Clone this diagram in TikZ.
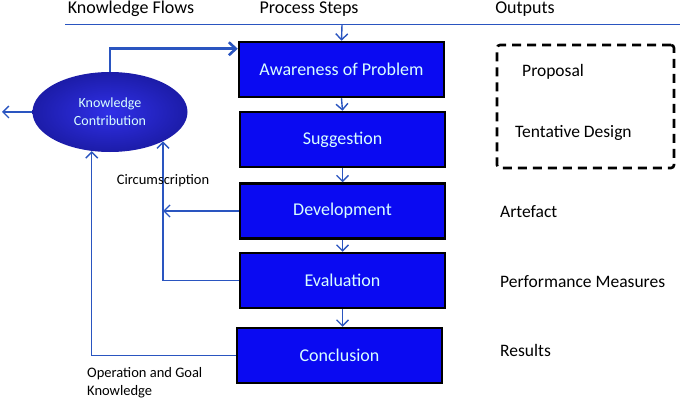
\documentclass[tikz,border=0pt]{standalone}
\usepackage{fontspec}
\setmainfont{Carlito}
\usetikzlibrary{arrows.meta,shapes.geometric,calc}
\definecolor{boxblue}{HTML}{0A0AF2}
\definecolor{linkblue}{HTML}{2A55C0}
\definecolor{txtcyan}{HTML}{D8FFFF}
\begin{document}
\begin{tikzpicture}[x=1pt,y=-1pt,
  stepbox/.style={draw=black,line width=2.5pt,fill=boxblue,text=txtcyan,
    font=\fontsize{18}{20}\selectfont,minimum width=205pt,minimum height=55pt,inner sep=0pt},
  flow/.style={draw=linkblue,line width=1.4pt,-{Straight Barb[length=6pt,width=12pt]}},
  thickflow/.style={draw=linkblue,line width=2.6pt,-{Straight Barb[length=7pt,width=13pt]}},
  plain/.style={draw=linkblue,line width=1.3pt},
  header/.style={font=\fontsize{18}{20}\selectfont,text=black,inner sep=0pt},
  outtext/.style={font=\fontsize{17.5}{20}\selectfont,text=black,inner sep=0pt,anchor=west},
  note/.style={font=\fontsize{14.5}{18}\selectfont,text=black,inner sep=0pt}
]
\useasboundingbox (0,0) rectangle (685,401);

% headers
\node[header] (hkf) at (131,9) {Knowledge Flows};
\node[header] (hps) at (309,9) {Process Steps};
\node[header] (hout) at (525,9) {Outputs};
\coordinate (hl) at (65,25);
\coordinate (hr) at (680,25);
\draw[plain,line width=1pt] (hl) -- (hr);

% process steps
\node[stepbox] (aw)  at (341.5,69.5) {Awareness of Problem};
\node[stepbox] (sug) at (342.5,139.5) {Suggestion};
\node[stepbox] (dev) at (342.5,211) {Development};
\node[stepbox] (eva) at (342.5,280.5) {Evaluation};
\node[stepbox] (con) at (339.5,355.5) {Conclusion};

\coordinate (topin) at (342,25);
\draw[flow] (topin) -- (aw.north);
\draw[flow] (aw.south) -- (sug.north);
\draw[flow] (sug.south) -- (dev.north);
\draw[flow] (dev.south) -- (eva.north);
\draw[flow] (eva.south) -- (eva.south |- con.north);

% knowledge contribution
\node[ellipse,minimum width=155pt,minimum height=80pt,inner sep=0pt,
  shading=radial,inner color={rgb,255:red,48;green,48;blue,232},
  outer color={rgb,255:red,28;green,28;blue,168},
  text=txtcyan,align=center,font=\fontsize{14}{18}\selectfont] (kc) at (110,112)
  {Knowledge\\Contribution};

\coordinate (kout) at (2,112);
\draw[flow] (kc.west) -- (kout);
\coordinate (awin) at ($(aw.north west)+(0,8)$);
\draw[thickflow] (kc.north) |- (awin);

\draw[flow] (eva.west) -| (kc.331);
\draw[flow] (dev.west) -- (dev.west -| kc.331);
\draw[flow] (con.west) -| (kc.245);

\node[note] (circ) at (163,181) {Circumscription};
\node[note,align=left,anchor=north west] (opg) at (87,367) {Operation and Goal\\Knowledge};

% outputs
\node[draw=black,dashed,line width=2.6pt,dash pattern=on 9pt off 6pt,rounded corners=3pt,
  minimum width=177pt,minimum height=123pt,inner sep=0pt] (outbox) at (585.5,106.5) {};
\node[outtext] (prop) at (522,72) {Proposal};
\node[outtext] (tent) at (515,133) {Tentative Design};
\node[outtext] (art) at (500,212) {Artefact};
\node[outtext] (perf) at (500,282) {Performance Measures};
\node[outtext] (res) at (500,350) {Results};
\end{tikzpicture}
\end{document}
